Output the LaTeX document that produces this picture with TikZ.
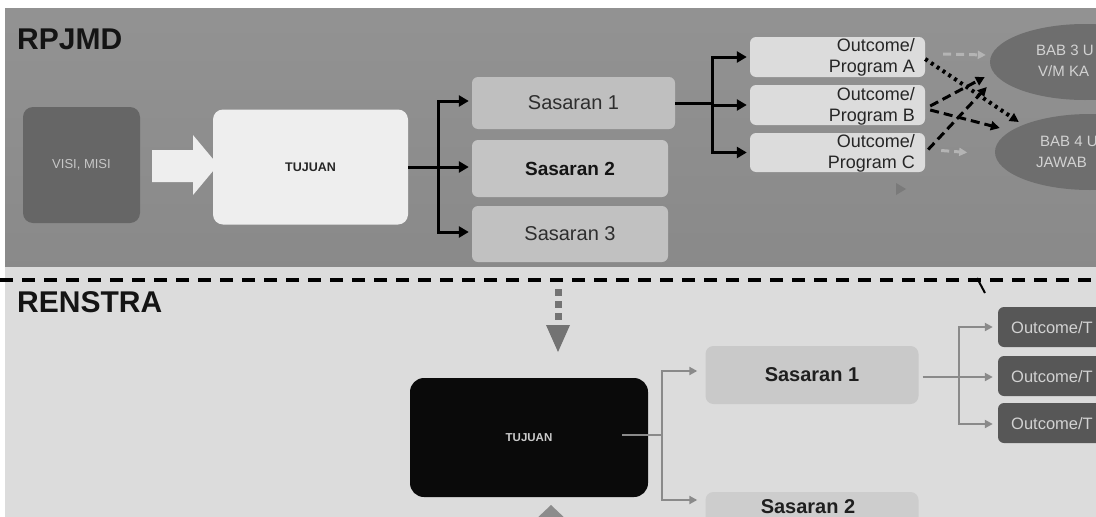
\documentclass[tikz,border=0pt]{standalone}
\usepackage{fontspec}
\setmainfont{Liberation Sans}
\usetikzlibrary{arrows.meta,calc,shapes.geometric}
\definecolor{topbg}{HTML}{8F8F8F}
\definecolor{botbg}{HTML}{DCDCDC}
\definecolor{visic}{HTML}{666666}
\definecolor{tujc}{HTML}{EEEEEE}
\definecolor{sasc}{HTML}{BCBCBC}
\definecolor{outc}{HTML}{DCDCDC}
\definecolor{ellc}{HTML}{6E6E6E}
\definecolor{elltx}{HTML}{D2D2D2}
\definecolor{bsasc}{HTML}{C9C9C9}
\definecolor{boutc}{HTML}{575757}
\definecolor{garr}{HTML}{8A8A8A}
\definecolor{lgdash}{HTML}{B4B4B4}
\tikzset{
  rbox/.style={rounded corners=10pt, inner sep=0pt, draw=none},
  blkline/.style={line width=3pt, black},
  blkarr/.style={line width=3pt, black, -{Triangle[length=10pt,width=11pt]}, shorten >=3pt},
  garline/.style={line width=2.2pt, garr},
  gararr/.style={line width=2.2pt, garr, -{Triangle[length=8pt,width=8pt]}},
  dsh/.style={line width=3pt, black, dash pattern=on 9pt off 5pt, -{Triangle[length=9pt,width=9pt]}},
  dtt/.style={line width=4pt, black, dash pattern=on 3pt off 4pt, -{Triangle[length=9pt,width=9pt]}},
  gdsh/.style={line width=3pt, lgdash, dash pattern=on 8pt off 5pt, -{Triangle[length=8pt,width=8pt]}},
  outtx/.style={align=right, anchor=east, text=black!85, font=\fontsize{18}{21}\selectfont, inner sep=0pt},
  elltext/.style={anchor=west, text=elltx, font=\fontsize{15}{17}\selectfont, inner sep=0pt},
  bouttx/.style={anchor=west, text=elltx, font=\fontsize{16.5}{18}\selectfont, inner sep=0pt},
}
\begin{document}
\begin{tikzpicture}[x=1pt,y=-1pt]
\useasboundingbox (0,0) rectangle (1096,517);
\clip (0,0) rectangle (1096,517);
\fill[white] (0,0) rectangle (1096,517);
% panels
\shade[top color=topbg!97!white, bottom color=topbg!96!black] (5,8) rectangle (1096,267);
\fill[botbg] (5,267) rectangle (1096,517);

% ---------- RPJMD ----------
\node[anchor=west, inner sep=0pt, font=\bfseries\fontsize{30}{32}\selectfont, text=black!92] (rpjmd) at (17,39) {RPJMD};

\node[rbox, fill=visic, minimum width=117pt, minimum height=116pt,
      text=black!22, font=\fontsize{13}{15}\selectfont] (visi) at (81.5,165) {VISI, MISI};
% block arrow
\fill[tujc] (152,150) -- (193,150) -- (193,135) -- (218,165) -- (193,195) -- (193,182) -- (152,182) -- cycle;
\node[rbox, fill=tujc, minimum width=195pt, minimum height=115pt,
      text=black!85, font=\bfseries\fontsize{12.5}{14}\selectfont] (tuj) at (310.5,167) {TUJUAN};

\node[rbox, rounded corners=6pt, fill=sasc!95!white, minimum width=203pt, minimum height=52pt,
      text=black!82, font=\fontsize{20}{22}\selectfont] (s1) at (573.5,103) {Sasaran 1};
\node[rbox, rounded corners=6pt, fill=sasc!88!white, minimum width=196pt, minimum height=57pt,
      text=black!92, font=\bfseries\fontsize{19}{22}\selectfont] (s2) at (570,168.5) {Sasaran 2};
\node[rbox, rounded corners=6pt, fill=sasc!92!white, minimum width=196pt, minimum height=56pt,
      text=black!82, font=\fontsize{20}{22}\selectfont] (s3) at (570,234) {Sasaran 3};

\coordinate (j1) at (438,167);
\draw[blkline] (tuj.east) -- (j1);
\draw[blkarr] (j1) |- ($(s1.west)+(0,-2)$);
\draw[blkarr] (j1) -- (s2.west |- j1);
\draw[blkarr] (j1) |- ($(s3.west)+(0,-2)$);

\node[rbox, rounded corners=6pt, fill=outc, minimum width=175pt, minimum height=40pt] (oA) at (837.5,57) {};
\node[rbox, rounded corners=6pt, fill=outc, minimum width=175pt, minimum height=40pt] (oB) at (837.5,105) {};
\node[rbox, rounded corners=6pt, fill=outc, minimum width=175pt, minimum height=39pt] (oC) at (837.5,152.5) {};
\node[outtx] (tA) at (915,57) {Outcome/\\Program A};
\node[outtx] (tB) at (915,106) {Outcome/\\Program B};
\node[outtx] (tC) at (915,153) {Outcome/\\Program C};

\coordinate (j2) at (712,105);
\draw[blkline] (s1.east) -- (s1.east -| j2) -- (j2);
\draw[blkarr] (j2) |- (oA.west);
\draw[blkarr] (j2) -- (oB.west);
\draw[blkarr] (j2) |- (oC.west);

\node[ellipse, fill=ellc, minimum width=190pt, minimum height=76pt, inner sep=0pt] (bab3) at (1085,62) {};
\node[ellipse, fill=ellc, minimum width=190pt, minimum height=76pt, inner sep=0pt] (bab4) at (1090,152) {};
\node[elltext] (b3a) at (1036,50) {BAB 3 U};
\node[elltext] (b3b) at (1038,71) {V/M KA};
\node[elltext] (b4a) at (1040,141) {BAB 4 U};
\node[elltext] (b4b) at (1036,162) {JAWAB};

% crossing dashed arrows
\draw[gdsh] ($(oA.east)+(18,-3)$) -- ($(bab3.west)+(-4,-7)$);
\draw[dtt] ($(oA.east)+(0,2)$) -- ($(bab4.west)+(24,-30)$);
\draw[dsh] ($(oB.east)+(5,1)$) -- ($(bab3.west)+(-5,15)$);
\draw[dsh] ($(oB.east)+(5,5)$) -- ($(bab4.west)+(5,-24)$);
\draw[dsh] ($(oC.east)+(3,-3)$) -- ($(bab3.west)+(-3,25)$);
\draw[gdsh] ($(oC.east)+(16,-2)$) -- ($(oC.east)+(42,0)$);
\fill[black!52] (896,183) -- (906,189) -- (896,195) -- cycle;

% ---------- separator ----------
\coordinate (sepL) at (0,280);
\coordinate (sepR) at (1096,280);
\draw[line width=4pt, dash pattern=on 13pt off 9pt] (sepL) -- (sepR);
\coordinate (slA) at (977,278);
\coordinate (slB) at (985,293);
\draw[line width=2pt] (slA) -- (slB);

% ---------- RENSTRA ----------
\node[anchor=west, inner sep=0pt, font=\bfseries\fontsize{30}{32}\selectfont, text=black!92] (renstra) at (17,302) {RENSTRA};

% gray dotted arrow down
\coordinate (dA) at (558,289);
\coordinate (dB) at (558,322);
\draw[line width=7pt, black!55, dash pattern=on 7pt off 5pt] (dA) -- (dB);
\fill[black!55] (546,325) -- (570,325) -- (558,352) -- cycle;

\node[rbox, rounded corners=14pt, fill=black!96, minimum width=238pt, minimum height=119pt,
      text=black!20, font=\bfseries\fontsize{11.5}{13}\selectfont] (tuj2) at (529,437.5) {TUJUAN};

\node[rbox, rounded corners=8pt, fill=bsasc, minimum width=213pt, minimum height=58pt] (bs1) at (812,375) {};
\node[inner sep=0pt, font=\bfseries\fontsize{20}{22}\selectfont, text=black!88] (bs1t) at (812,375) {Sasaran 1};
\node[rbox, rounded corners=8pt, fill=bsasc!80!botbg, minimum width=213pt, minimum height=58pt] (bs2) at (812,521) {};
\node[inner sep=0pt, font=\bfseries\fontsize{20}{22}\selectfont, text=black!88] (bs2t) at (808,507) {Sasaran 2};

\coordinate (tjs) at (622,435);
\coordinate (j3) at (662,435);
\draw[garline] (tjs) -- (j3);
\draw[gararr] (j3) |- ($(bs1.west)+(-8,-4)$);
\draw[gararr] (j3) |- ($(bs2.west)+(-8,-21)$);

\node[rbox, rounded corners=6pt, fill=boutc, minimum width=110pt, minimum height=40pt] (bo1) at (1053,327) {};
\node[rbox, rounded corners=6pt, fill=boutc, minimum width=110pt, minimum height=40pt] (bo2) at (1053,376) {};
\node[rbox, rounded corners=6pt, fill=boutc, minimum width=110pt, minimum height=40pt] (bo3) at (1053,423) {};
\node[bouttx] (bo1t) at (1011,328) {Outcome/T};
\node[bouttx] (bo2t) at (1011,377) {Outcome/T};
\node[bouttx] (bo3t) at (1011,424) {Outcome/T};

\coordinate (j4) at (959,377);
\draw[garline] ($(bs1.east)+(4,2)$) -- (j4);
\draw[gararr] (j4) |- ($(bo1.west)+(-5,0)$);
\draw[gararr] (j4) -- ($(bo2.west)+(-5,1)$);
\draw[gararr] (j4) |- ($(bo3.west)+(-5,1)$);

% partial upward gray arrow at bottom
\fill[black!45] (533,522) -- (551,505) -- (569,522) -- cycle;
\end{tikzpicture}
\end{document}
